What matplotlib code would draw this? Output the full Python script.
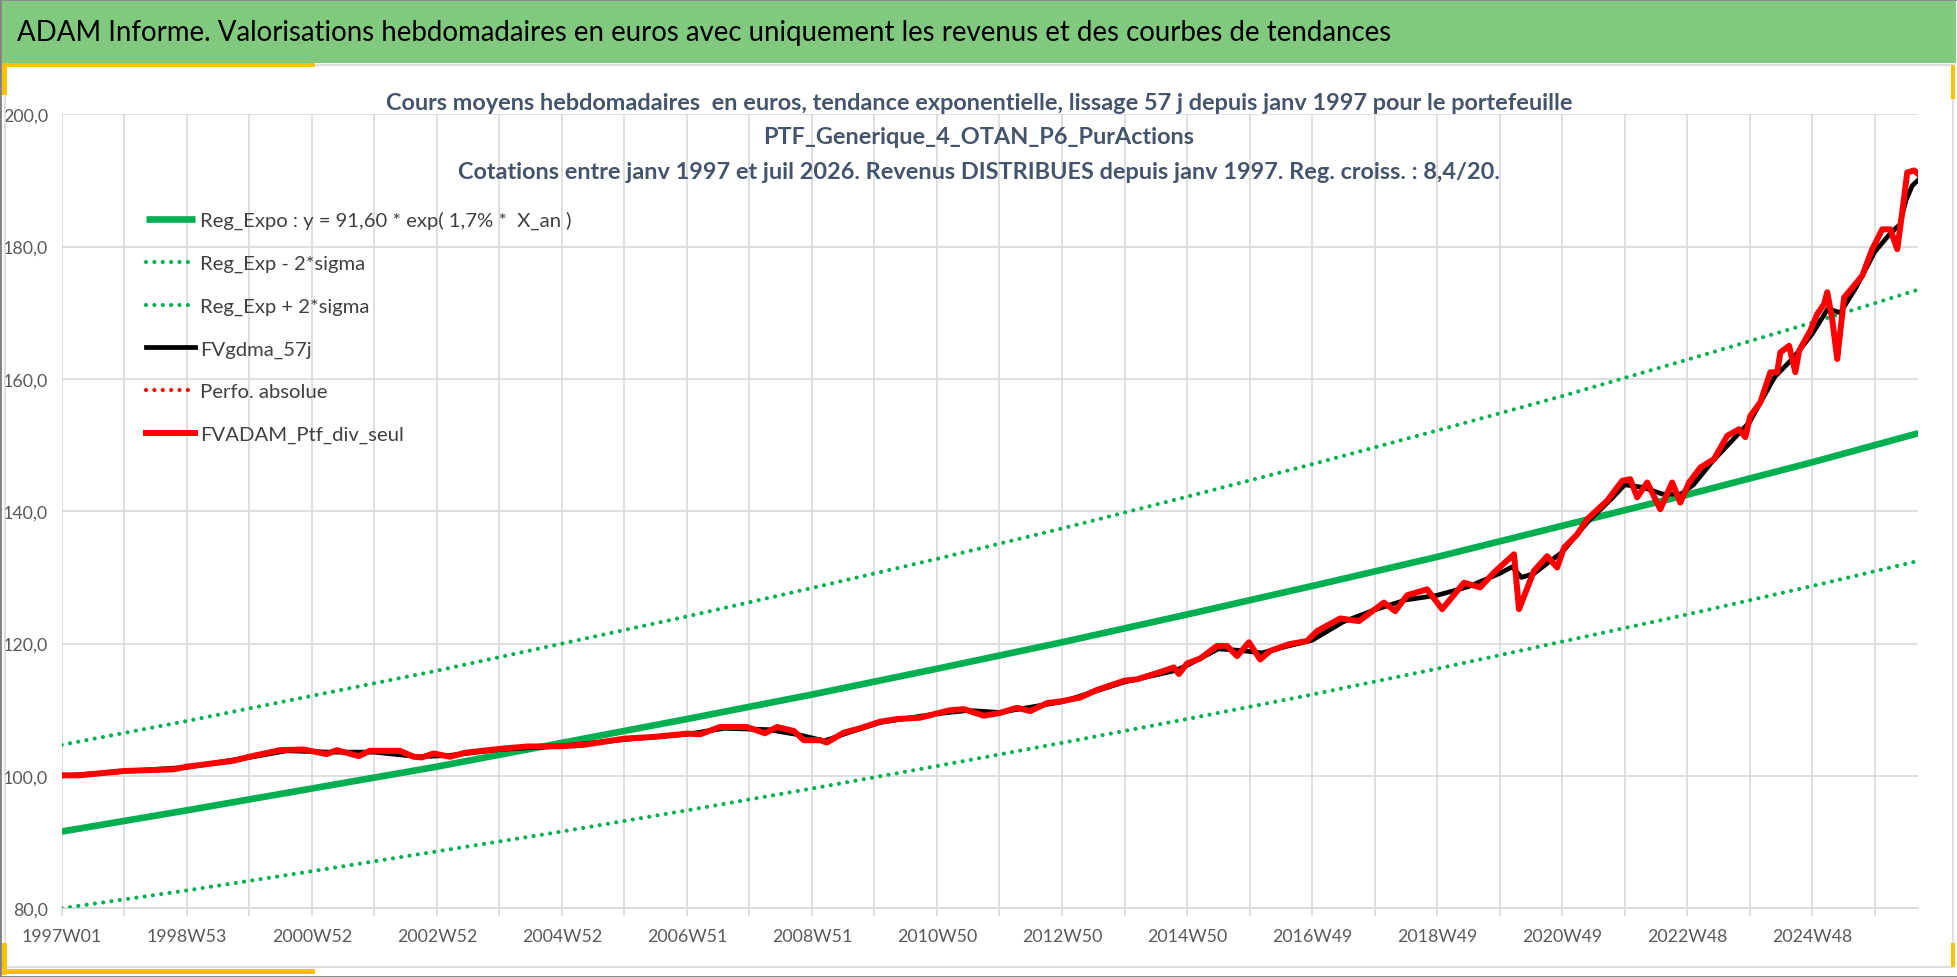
import matplotlib
matplotlib.use("Agg")
import matplotlib.pyplot as plt
from matplotlib.patches import Rectangle
from matplotlib.ticker import FuncFormatter

# ---------------- DATA ----------------
# x in years since 1997W01
trend_t = [0, 2, 4, 6, 8, 10, 12, 14, 16, 18, 20, 22, 24, 26, 28, 29.7]
reg_expo = [91.6, 94.8, 98.1, 101.4, 105.0, 108.6, 112.3, 116.2,
            120.2, 124.4, 128.7, 133.1, 137.8, 142.5, 147.4, 151.8]
reg_minus = [80.0, 82.7, 85.6, 88.6, 91.6, 94.8, 98.1, 101.5,
             105.0, 108.6, 112.3, 116.2, 120.3, 124.4, 128.7, 132.5]
reg_plus = [104.7, 108.3, 112.1, 115.9, 120.0, 124.1, 128.4, 132.8,
            137.4, 142.2, 147.1, 152.2, 157.4, 162.9, 168.5, 173.5]

ptf_t = [0.0, 0.29, 1.0, 1.79, 2.0, 2.75, 3.0, 3.49, 3.87, 4.24, 4.4, 4.75,
         4.93, 5.41, 5.63, 5.76, 5.95, 6.21, 6.45, 7.01, 7.44, 8.01, 8.35,
         9.01, 9.47, 10.01, 10.21, 10.53, 10.96, 11.25, 11.44, 11.71, 11.87,
         12.13, 12.24, 12.51, 12.77, 13.09, 13.36, 13.73, 14.19, 14.43, 14.75,
         15.0, 15.28, 15.49, 15.76, 16.0, 16.29, 16.56, 17.0, 17.2, 17.57,
         17.79, 17.87, 18.0, 18.21, 18.48, 18.64, 18.8, 18.99, 19.17, 19.33,
         19.63, 19.92, 20.08, 20.45, 20.75, 21.15, 21.33, 21.52, 21.84, 22.08,
         22.43, 22.69, 22.91, 23.23, 23.31, 23.55, 23.76, 23.92, 24.03, 24.24,
         24.4, 24.72, 24.96, 25.09, 25.2, 25.36, 25.57, 25.76, 25.89, 26.03,
         26.21, 26.43, 26.64, 26.83, 26.93, 27.01, 27.17, 27.33, 27.44, 27.49,
         27.63, 27.73, 27.79, 27.97, 28.08, 28.19, 28.24, 28.32, 28.4, 28.51,
         28.67, 28.8, 28.96, 29.12, 29.25, 29.36, 29.44, 29.52, 29.63, 29.69]
ptf_div = [100.1, 100.1, 100.75, 101.0, 101.4, 102.3, 102.9, 103.9, 104.0,
           103.3, 103.9, 103.0, 103.8, 103.8, 102.9, 102.8, 103.4, 102.9,
           103.5, 104.1, 104.45, 104.5, 104.7, 105.65, 105.9, 106.4, 106.3,
           107.4, 107.4, 106.45, 107.4, 106.8, 105.4, 105.4, 105.05, 106.55,
           107.2, 108.2, 108.6, 108.8, 109.9, 110.1, 109.1, 109.5, 110.3,
           109.8, 111.0, 111.3, 111.85, 113.0, 114.4, 114.6, 115.7, 116.4,
           115.4, 117.0, 117.75, 119.65, 119.65, 118.1, 120.2, 117.6, 118.9,
           119.9, 120.4, 121.9, 123.8, 123.4, 126.2, 124.9, 127.3, 128.2,
           125.2, 129.2, 128.5, 130.75, 133.5, 125.2, 131.0, 133.2, 131.5,
           134.5, 136.5, 138.8, 141.6, 144.6, 144.85, 142.1, 144.35, 140.3,
           144.35, 141.3, 144.35, 146.6, 147.9, 151.4, 152.4, 151.2, 154.4,
           156.45, 161.0, 161.0, 164.0, 165.0, 161.0, 164.25, 167.3, 169.8,
           171.3, 173.1, 169.0, 163.0, 172.3, 174.1, 175.6, 179.6, 182.6,
           182.6, 179.6, 185.2, 191.2, 191.5, 191.0]

gdma_t = [0, 1, 2, 3, 3.6, 4.3, 5, 5.7, 6.2, 7, 8, 9, 10, 10.6, 11.3, 11.8,
          12.2, 12.6, 13.1, 14, 14.5, 15, 16, 17, 17.8, 18.0, 18.5, 18.8, 19.2,
          19.6, 20, 20.5, 21, 21.5, 22, 22.5, 23, 23.2, 23.35, 23.55, 23.8,
          24.0, 24.4, 24.8, 25.0, 25.3, 25.6, 25.9, 26.1, 26.4, 26.8, 27.0,
          27.4, 27.7, 28.0, 28.25, 28.45, 28.7, 29.0, 29.25, 29.4, 29.5, 29.6,
          29.69]
gdma_57j = [100.0, 100.7, 101.3, 102.8, 103.8, 103.6, 103.6, 102.9, 103.1,
            104.0, 104.5, 105.5, 106.3, 107.2, 107.0, 106.2, 105.3, 106.6,
            108.1, 109.4, 109.9, 109.6, 111.2, 114.2, 115.9, 116.7, 119.2,
            119.0, 118.6, 119.6, 120.5, 123.3, 125.1, 126.6, 127.3, 128.6,
            130.6, 131.6, 130.0, 130.6, 132.4, 133.8, 138.3, 142.0, 144.0,
            143.6, 142.6, 142.6, 144.0, 147.5, 151.5, 153.5, 160.3, 163.2,
            166.8, 170.6, 170.0, 173.8, 179.2, 182.0, 183.3, 187.0, 189.2,
            190.0]

tick_years = list(range(0, 29, 2))
tick_labels = ["1997W01", "1998W53", "2000W52", "2002W52", "2004W52",
               "2006W51", "2008W51", "2010W50", "2012W50", "2014W50",
               "2016W49", "2018W49", "2020W49", "2022W48", "2024W48"]

header = ("ADAM Informe. Valorisations hebdomadaires en euros avec uniquement "
          "les revenus et des courbes de tendances")
title_lines = [
    "Cours moyens hebdomadaires  en euros, tendance exponentielle, lissage 57 j "
    "depuis janv 1997 pour le portefeuille",
    "PTF_Generique_4_OTAN_P6_PurActions",
    "Cotations entre janv 1997 et juil 2026. Revenus DISTRIBUES depuis janv 1997. "
    "Reg. croiss. : 8,4/20.",
]
legend_labels = ["Reg_Expo : y = 91,60 * exp( 1,7% *  X_an )",
                 "Reg_Exp - 2*sigma", "Reg_Exp + 2*sigma", "FVgdma_57j",
                 "Perfo. absolue", "FVADAM_Ptf_div_seul"]

# ---------------- STYLE ----------------
W, H = 1958, 978
GREEN = "#00B050"
RED = "#FF0000"
GRID = "#D9D9D9"
TITLE_C = "#44546A"
TEXT_C = "#404040"
plt.rcParams["font.family"] = ["Lato", "DejaVu Sans"]


def fx(px):
    return px / W


def fy(py):
    return 1 - py / H


fig = plt.figure(figsize=(W / 100, H / 100), dpi=100)

# frame, header band, yellow accents
fig.add_artist(Rectangle((fx(2), fy(64)), fx(1954), 62 / H,
                         transform=fig.transFigure, color="#80C97E", lw=0))
fig.add_artist(Rectangle((fx(5), fy(968)), fx(1948), 902 / H,
                         transform=fig.transFigure, fill=False,
                         ec=GRID, lw=1.2))
for (x0, y0, w, h) in [(2, 64, 313, 4), (2, 64, 5, 32), (2, 944, 5, 32),
                       (2, 970, 313, 5), (1951, 66, 4, 34), (1951, 944, 4, 24)]:
    fig.add_artist(Rectangle((fx(x0), fy(y0 + h)), w / W, h / H,
                             transform=fig.transFigure, color="#FFC000", lw=0))
fig.add_artist(Rectangle((0, 0), 1, 1, transform=fig.transFigure,
                         fill=False, ec="#7F7F7F", lw=2))

fig.text(fx(17), fy(33), header, fontsize=19.9, color="black",
         ha="left", va="center")
for line, ypx in zip(title_lines, [103, 138, 173]):
    fig.text(fx(979), fy(ypx), line, fontsize=16.9, fontweight="bold",
             color=TITLE_C, ha="center", va="center")

# ---------------- AXES ----------------
ax = fig.add_axes([fx(61.7), fy(909.3), (1918.5 - 61.7) / W,
                   (909.3 - 115.2) / H])
ax.set_xlim(0, 29.7)
ax.set_ylim(80, 200)

ax.plot(trend_t, reg_expo, color=GREEN, lw=4.8, solid_capstyle="butt",
        label=legend_labels[0], zorder=3)
ax.plot(trend_t, reg_minus, color=GREEN, lw=3, linestyle=(0, (0.01, 2)),
        dash_capstyle="round", label=legend_labels[1], zorder=3)
ax.plot(trend_t, reg_plus, color=GREEN, lw=3, linestyle=(0, (0.01, 2)),
        dash_capstyle="round", label=legend_labels[2], zorder=3)
ax.plot(gdma_t, gdma_57j, color="black", lw=3.4, label=legend_labels[3],
        zorder=4)
ax.plot([], [], color=RED, lw=3, linestyle=(0, (0.01, 2)),
        dash_capstyle="round", label=legend_labels[4])
ax.plot(ptf_t, ptf_div, color=RED, lw=4.3, label=legend_labels[5],
        solid_joinstyle="round", zorder=5)

ax.set_xticks(tick_years)
ax.set_xticklabels(tick_labels)
ax.set_xticks(range(1, 30, 2), minor=True)
ax.set_yticks(range(80, 201, 20))
ax.yaxis.set_major_formatter(FuncFormatter(lambda v, p: f"{v:.1f}".replace(".", ",")))
ax.grid(True, which="both", color=GRID, lw=1.2, zorder=0)
ax.tick_params(axis="x", which="both", length=6, color=GRID, width=1.2,
               labelsize=12.8, labelcolor="#595959", pad=8)
ax.tick_params(axis="y", length=0, labelsize=12.8, labelcolor="#595959", pad=10)
for side in ["top", "right", "left"]:
    ax.spines[side].set_visible(False)
ax.spines["bottom"].set_color(GRID)
ax.spines["bottom"].set_linewidth(1.2)
ax.set_axisbelow(True)

leg = ax.legend(loc="upper left", bbox_to_anchor=(fx(146), fy(212)),
                bbox_transform=fig.transFigure, frameon=False, fontsize=14.6,
                handlelength=2.4, handletextpad=0.25, labelspacing=1.25,
                borderaxespad=0, borderpad=0)
for txt in leg.get_texts():
    txt.set_color(TEXT_C)

fig.savefig("out.png", dpi=100)
